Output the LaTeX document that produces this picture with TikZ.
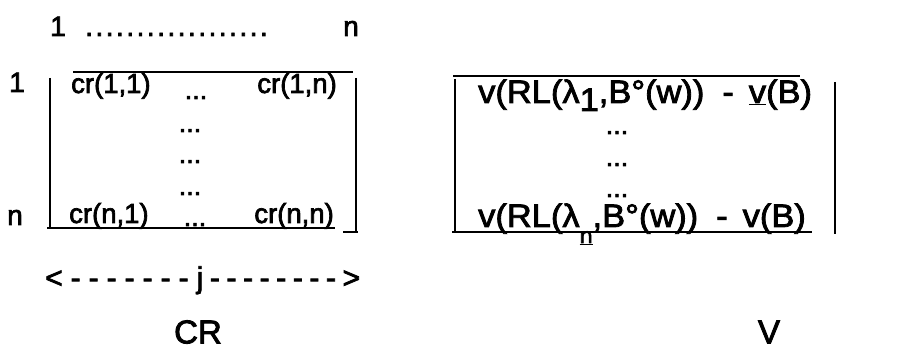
\documentclass[tikz,border=0pt]{standalone}
\usepackage{fontspec}
\setmainfont{Liberation Sans}[FakeBold=2.5]
\newfontfamily\widefont{Liberation Sans}[FakeBold=2.5,FakeStretch=1.06]
\begin{document}
\begin{tikzpicture}[x=1pt,y=-1pt,
  lbl/.style={inner sep=0pt, anchor=base west, font=\fontsize{28}{32}\selectfont},
  ent/.style={inner sep=0pt, anchor=base west, font=\fontsize{27.5}{32}\selectfont},
  rent/.style={inner sep=0pt, anchor=base west, font=\widefont\fontsize{32.5}{38}\selectfont},
  dots/.style={inner sep=0pt, anchor=base, font=\fontsize{27}{32}\selectfont},
  big/.style={inner sep=0pt, anchor=center, font=\fontsize{33}{38}\selectfont},
  rule/.style={line width=2.2pt},
]
\useasboundingbox (0,0) rectangle (913,355);

% top index row
\node[lbl] (t1) at (50,36) {1};
\node[lbl] (tdots) at (85,36) {\foreach \i in {1,...,18}{.\kern2.5pt}};
\node[lbl] (tn) at (343,36) {n};

% row labels
\node[lbl] (r1) at (9,92) {1};
\node[lbl] (rn) at (7,225) {n};

% left matrix entries
\node[ent] (c11) at (71,93) {cr(1,1)};
\node[dots] (c1d) at (196,99) {...};
\node[ent,anchor=base east] (c1n) at (337,93) {cr(1,n)};
\node[dots] (m1) at (190,132) {...};
\node[dots] (m2) at (190,163) {...};
\node[dots] (m3) at (190,195) {...};
\node[ent] (cn1) at (69,223) {cr(n,1)};
\node[dots] (cnd) at (195,226) {...};
\node[ent,anchor=base east] (cnn) at (334,223) {cr(n,n)};

% left matrix frame
\coordinate (LT1) at (73,72);  \coordinate (LT2) at (353,72);
\coordinate (LL1) at (50,78);  \coordinate (LL2) at (50,229);
\coordinate (LR1) at (356,78); \coordinate (LR2) at (356,233);
\coordinate (LB1) at (47,228); \coordinate (LB2) at (335,228);
\coordinate (LS1) at (343,232); \coordinate (LS2) at (358,232);
\draw[rule] (LT1) -- (LT2);
\draw[rule] (LL1) -- (LL2);
\draw[rule] (LR1) -- (LR2);
\draw[rule] (LB1) -- (LB2);
\draw[rule] (LS1) -- (LS2);

% right matrix entries
\node[rent] (v1) at (478,103) {v(RL(λ\raisebox{-8pt}{1},B°(w))\hspace{18pt}-\hspace{15pt}\underline{v}(B)};
\node[dots] (vd1) at (617,134) {...};
\node[dots] (vd2) at (617,166) {...};
\node[dots] (vd3) at (617,197) {...};
\node[rent] (vn) at (478,227) {v(RL(λ\raisebox{-16pt}{\fontsize{22}{26}\selectfont\underline{n}},B°(w))\hspace{18pt}-\hspace{15pt}v(B)};

% right matrix frame
\coordinate (RT1) at (453,76);  \coordinate (RT2) at (800,76);
\coordinate (RL1) at (455,79);  \coordinate (RL2) at (455,232);
\coordinate (RR1) at (835,82);  \coordinate (RR2) at (835,234);
\coordinate (RB1) at (452,232); \coordinate (RB2) at (812,232);
\draw[rule] (RT1) -- (RT2);
\draw[rule] (RL1) -- (RL2);
\draw[rule] (RR1) -- (RR2);
\draw[rule] (RB1) -- (RB2);

% j range
\node[inner sep=0pt, anchor=base west, font=\fontsize{30}{34}\selectfont] (jr) at (45,288)
  {<\foreach \i in {1,...,7}{\kern8pt-}\kern8pt j\foreach \i in {1,...,8}{\kern6.6pt-}\kern6.6pt>};

% captions
\node[big] (cr) at (198,332) {CR};
\node[big] (vv) at (769,332) {V};
\end{tikzpicture}
\end{document}
